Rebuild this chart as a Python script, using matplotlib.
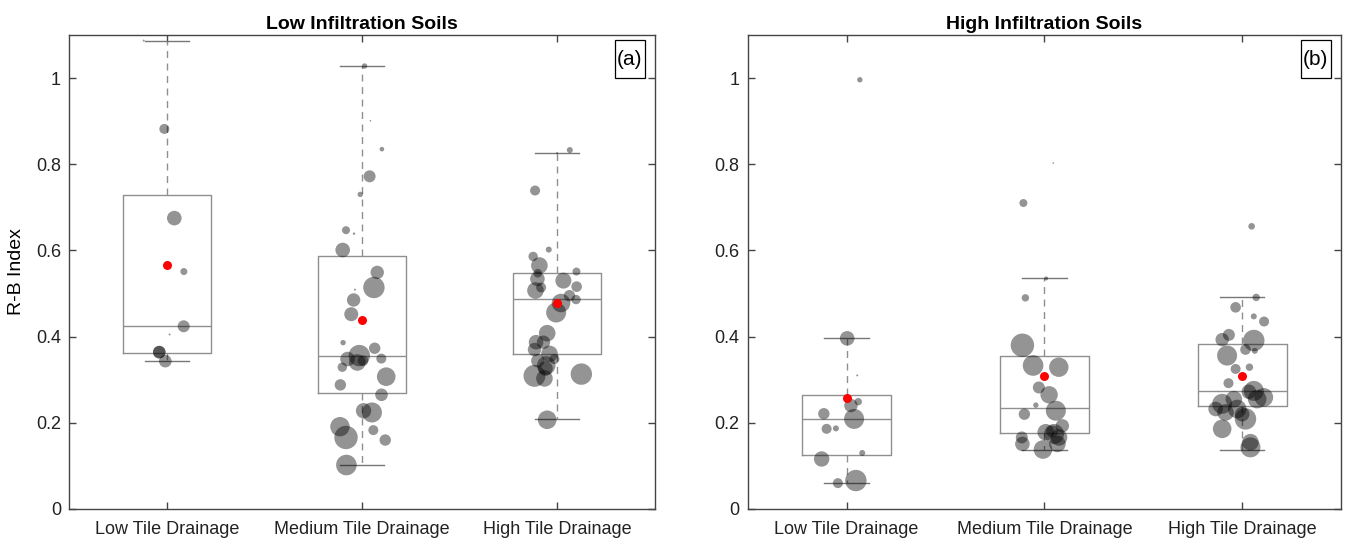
import matplotlib
matplotlib.use("Agg")
import matplotlib.pyplot as plt
from matplotlib.patches import Rectangle
import numpy as np

plt.rcParams["font.family"] = ["Liberation Sans", "DejaVu Sans"]

groups = ["Low Tile Drainage", "Medium Tile Drainage", "High Tile Drainage"]
titles = ["Low Infiltration Soils", "High Infiltration Soils"]
panel_tags = ["(a)", "(b)"]

# box statistics (q1, median, q3, whisker ends, mean)
low_q1 = [0.363, 0.270, 0.360]
low_med = [0.424, 0.355, 0.4865]
low_q3 = [0.728, 0.586, 0.547]
low_lo = [0.343, 0.101, 0.209]
low_hi = [1.087, 1.028, 0.826]
low_mean = [0.566, 0.4385, 0.477]

high_q1 = [0.126, 0.176, 0.240]
high_med = [0.208, 0.234, 0.273]
high_q3 = [0.264, 0.356, 0.384]
high_lo = [0.060, 0.137, 0.137]
high_hi = [0.396, 0.535, 0.491]
high_mean = [0.258, 0.308, 0.309]

# individual sites: R-B index, jitter offset, bubble size (relative)
low1_y = [0.882, 0.675, 0.551, 0.424, 0.405, 0.364, 0.364, 0.343, 1.087]
low1_jit = [-0.013, 0.038, 0.087, 0.086, 0.014, -0.039, -0.039, -0.008, -0.119]
low1_sz = [5, 7.3, 3.5, 6, 1, 6.3, 6.3, 6.3, 1]

low2_y = [1.028, 0.901, 0.835, 0.772, 0.730, 0.647, 0.639, 0.601, 0.549, 0.514,
          0.509, 0.485, 0.452, 0.386, 0.373, 0.356, 0.348, 0.344, 0.340, 0.349,
          0.329, 0.307, 0.288, 0.265, 0.228, 0.224, 0.183, 0.160, 0.191, 0.166,
          0.102]
low2_jit = [0.013, 0.043, 0.102, 0.039, -0.009, -0.082, -0.041, -0.099, 0.078, 0.061,
            -0.036, -0.043, -0.055, -0.097, 0.065, -0.014, -0.074, 0.005, -0.024, 0.099,
            -0.101, 0.124, -0.111, 0.100, 0.008, 0.051, 0.058, 0.119, -0.113, -0.082,
            -0.080]
low2_sz = [2.7, 0.8, 2.3, 6, 2.7, 4, 1.2, 7.3, 6.7, 10.7,
           1, 6.7, 7, 2.7, 5.7, 10.7, 7.3, 5.3, 8.3, 5,
           4.7, 9.3, 5.7, 6.3, 7.7, 10, 5, 5.7, 9.7, 11.7,
           10.3]

low3_y = [0.833, 0.826, 0.739, 0.602, 0.586, 0.565, 0.547, 0.551, 0.534, 0.530,
          0.516, 0.514, 0.507, 0.495, 0.486, 0.478, 0.456, 0.408, 0.387, 0.387,
          0.370, 0.360, 0.348, 0.344, 0.333, 0.309, 0.303, 0.313, 0.207, 0.326]
low3_jit = [0.065, 0.0, -0.113, -0.043, -0.123, -0.091, -0.099, 0.099, -0.101, 0.032,
            0.100, -0.082, -0.111, 0.063, 0.097, 0.020, -0.005, -0.051, -0.108, -0.070,
            -0.116, -0.039, -0.014, -0.099, -0.056, -0.116, -0.065, 0.124, -0.051, -0.060]
low3_sz = [3, 1, 5, 3, 4.7, 8.3, 4.3, 4, 7.3, 8,
           5.3, 5, 8.3, 5.7, 4.7, 9.3, 10, 8.3, 7.3, 6.7,
           6.7, 8.3, 5, 6.7, 9.3, 11, 8.3, 10.7, 9.3, 7.3]

high1_y = [0.996, 0.396, 0.310, 0.249, 0.240, 0.209, 0.221, 0.186, 0.187, 0.130,
           0.116, 0.060, 0.066]
high1_jit = [0.067, 0.003, 0.054, 0.059, 0.022, 0.038, -0.115, -0.101, -0.054, 0.079,
             -0.126, -0.044, 0.047]
high1_sz = [2.7, 7.3, 1, 3.7, 6.7, 10, 5.7, 5, 3, 3,
            7.7, 5, 10.7]

high2_y = [0.803, 0.710, 0.535, 0.490, 0.380, 0.333, 0.329, 0.282, 0.265, 0.241,
           0.228, 0.220, 0.178, 0.193, 0.174, 0.166, 0.151, 0.166, 0.151, 0.138,
           0.180]
high2_jit = [0.045, -0.106, 0.009, -0.096, -0.111, -0.057, 0.073, -0.028, 0.024, -0.043,
             0.058, -0.101, 0.007, 0.091, 0.049, 0.074, 0.066, -0.114, -0.111, -0.007,
             0.040]
high2_sz = [0.8, 4, 2, 3.7, 11.7, 10.3, 9.7, 6, 8.7, 2.7,
            10, 5.7, 8.3, 6.7, 10, 8.3, 8.3, 6, 7.3, 9.3,
            6]

high3_y = [0.656, 0.491, 0.468, 0.447, 0.435, 0.404, 0.393, 0.391, 0.370, 0.367,
           0.356, 0.325, 0.329, 0.292, 0.274, 0.259, 0.272, 0.255, 0.255, 0.244,
           0.232, 0.232, 0.224, 0.209, 0.220, 0.186, 0.143, 0.155]
high3_jit = [0.048, 0.071, -0.033, 0.059, 0.111, -0.067, -0.101, 0.059, 0.017, 0.064,
             -0.076, -0.033, 0.037, -0.069, 0.059, 0.110, 0.034, 0.076, -0.042, -0.101,
             -0.025, -0.134, -0.084, 0.017, 0.0, -0.101, 0.042, 0.042]
high3_sz = [3.3, 3.7, 5.3, 3, 5, 6, 6.7, 10.7, 5.3, 3,
            10, 5, 3.7, 5, 10, 9.3, 7.3, 9.3, 8.3, 10,
            9.3, 7.3, 8.3, 10.7, 7.3, 9.3, 10, 8.3]

panels = [
    dict(q1=low_q1, med=low_med, q3=low_q3, lo=low_lo, hi=low_hi, mean=low_mean,
         pts=[(low1_y, low1_jit, low1_sz), (low2_y, low2_jit, low2_sz),
              (low3_y, low3_jit, low3_sz)]),
    dict(q1=high_q1, med=high_med, q3=high_q3, lo=high_lo, hi=high_hi, mean=high_mean,
         pts=[(high1_y, high1_jit, high1_sz), (high2_y, high2_jit, high2_sz),
              (high3_y, high3_jit, high3_sz)]),
]

fig = plt.figure(figsize=(13.46, 5.39), dpi=100)
axes = [fig.add_axes([0.0515, 0.0557, 0.4349, 0.8794]),
        fig.add_axes([0.5555, 0.0557, 0.4408, 0.8794])]

spine_col = "#444444"
box_col = "#8f8f8f"
pos = np.arange(1, 4)

for k, (ax, p) in enumerate(zip(axes, panels)):
    stats = [dict(q1=p["q1"][i], med=p["med"][i], q3=p["q3"][i],
                  whislo=p["lo"][i], whishi=p["hi"][i], fliers=[])
             for i in range(3)]
    ax.bxp(stats, positions=pos, widths=0.45, capwidths=0.225, showfliers=False,
           boxprops=dict(color=box_col, lw=1.0),
           medianprops=dict(color=box_col, lw=1.0),
           whiskerprops=dict(color=box_col, lw=1.0, linestyle=(0, (5, 4))),
           capprops=dict(color="#777777", lw=1.0),
           manage_ticks=False, zorder=2)

    for i, (ys, jit, sz) in enumerate(p["pts"]):
        xs = pos[i] + np.array(jit)
        s = (2 * np.array(sz) * 0.72) ** 2
        ax.scatter(xs, ys, s=s, color="black", alpha=0.42, linewidths=0, zorder=3)

    ax.scatter(pos, p["mean"], s=42, color="red", linewidths=0, zorder=4)

    ax.set_xlim(0.5, 3.5)
    ax.set_ylim(0, 1.1)
    ax.set_xticks(pos)
    ax.set_xticklabels(groups, fontsize=13)
    ax.set_yticks([0, 0.2, 0.4, 0.6, 0.8, 1.0])
    ax.set_yticklabels(["0", "0.2", "0.4", "0.6", "0.8", "1"], fontsize=13)
    ax.tick_params(direction="in", length=5, width=1, color=spine_col,
                   top=True, right=True, pad=6, labelcolor="#222222")
    ax.tick_params(axis="x", pad=9)
    for sp in ax.spines.values():
        sp.set_color(spine_col)
        sp.set_linewidth(1.0)
    ax.set_title(titles[k], fontsize=14, fontweight="bold", pad=4)

    # panel tag in a framed box, top right
    ax.add_patch(Rectangle((0.932, 0.909), 0.051, 0.080, transform=ax.transAxes,
                           fc="white", ec="black", lw=0.9, zorder=5))
    ax.text(0.9575, 0.949, panel_tags[k], transform=ax.transAxes, ha="center",
            va="center", fontsize=15, zorder=6)

axes[0].set_ylabel("R-B Index", fontsize=14, labelpad=8)

fig.savefig("out.png", dpi=100)
